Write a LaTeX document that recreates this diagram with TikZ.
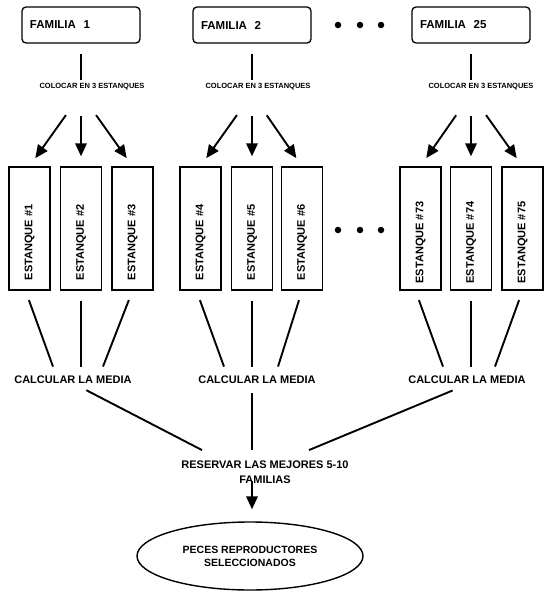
\documentclass[tikz,border=0pt]{standalone}
\usepackage{fontspec}
\setmainfont{Liberation Sans}
\usetikzlibrary{arrows.meta,shapes.geometric}

\tikzset{
  familybox/.style={draw,line width=1.3pt,rounded corners=4pt,
        minimum width=118pt,minimum height=36pt,text width=102pt,
        align=left,inner xsep=8pt,font=\bfseries\fontsize{11.5}{13}\selectfont},
  tank/.style={draw,line width=1.4pt,minimum width=41pt,minimum height=123pt},
  tanklabel/.style={rotate=90,font=\bfseries\fontsize{11}{13}\selectfont},
  steplabel/.style={font=\bfseries\fontsize{11}{15}\selectfont,align=center},
  smalllabel/.style={font=\bfseries\fontsize{7.5}{9}\selectfont},
  link/.style={line width=1.9pt},
  split/.style={line width=1.9pt,-{Triangle[length=13pt,width=11.5pt]}},
  bigdot/.style={circle,fill,inner sep=0pt,minimum size=6.5pt}
}

\begin{document}
\begin{tikzpicture}[x=1pt,y=-1pt]
      \useasboundingbox (0,0) rectangle (550,598);

      % families
      \node[familybox] (fam1)  at (81,25)  {FAMILIA\ \ 1};
      \node[familybox] (fam2)  at (252,25) {FAMILIA\ \ 2};
      \node[familybox] (fam25) at (471,25) {FAMILIA\ \ 25};

      \node[bigdot] (d1) at (338,25) {};
      \node[bigdot] (d2) at (360,25) {};
      \node[bigdot] (d3) at (381,25) {};

      \node[smalllabel] (col1)  at (92,87)  {COLOCAR EN 3 ESTANQUES};
      \node[smalllabel] (col2)  at (258,87) {COLOCAR EN 3 ESTANQUES};
      \node[smalllabel] (col25) at (481,87) {COLOCAR EN 3 ESTANQUES};

      \draw[link,shorten <=10pt] (fam1.south)  -- (fam1.south |- col1.north);
      \draw[link,shorten <=10pt] (fam2.south)  -- (fam2.south |- col2.north);
      \draw[link,shorten <=10pt] (fam25.south) -- (fam25.south |- col25.north);

      % tanks
      \node[tank] (t1)  at (29.5,228.5)  {};
      \node[tank] (t2)  at (81,228.5)    {};
      \node[tank] (t3)  at (132.5,228.5) {};
      \node[tank] (t4)  at (200.5,228.5) {};
      \node[tank] (t5)  at (252,228.5)   {};
      \node[tank] (t6)  at (302,228.5)   {};
      \node[tank] (t73) at (420.5,228.5) {};
      \node[tank] (t74) at (471,228.5)   {};
      \node[tank] (t75) at (522.5,228.5) {};

      \node[tanklabel] at ([yshift=-14pt]t1.center)  {ESTANQUE \#1};
      \node[tanklabel] at ([yshift=-14pt]t2.center)  {ESTANQUE \#2};
      \node[tanklabel] at ([yshift=-14pt]t3.center)  {ESTANQUE \#3};
      \node[tanklabel] at ([yshift=-14pt]t4.center)  {ESTANQUE \#4};
      \node[tanklabel] at ([yshift=-14pt]t5.center)  {ESTANQUE \#5};
      \node[tanklabel] at ([yshift=-14pt]t6.center)  {ESTANQUE \#6};
      \node[tanklabel] at ([yshift=-14pt]t73.center) {ESTANQUE \#73};
      \node[tanklabel] at ([yshift=-14pt]t74.center) {ESTANQUE \#74};
      \node[tanklabel] at ([yshift=-14pt]t75.center) {ESTANQUE \#75};

      \node[bigdot] (d4) at (338,230) {};
      \node[bigdot] (d5) at (360,230) {};
      \node[bigdot] (d6) at (381,230) {};

      \coordinate (s1)  at (fam1.south |- col1.south);
      \coordinate (s2)  at (fam2.south |- col2.south);
      \coordinate (s25) at (fam25.south |- col25.south);

      \draw[split,shorten <=26pt,shorten >=10pt] (s1) -- (t1.north);
      \draw[split,shorten <=22pt,shorten >=10pt] (s1) -- (t2.north);
      \draw[split,shorten <=26pt,shorten >=10pt] (s1) -- (t3.north);
      \draw[split,shorten <=26pt,shorten >=10pt] (s2) -- (t4.north);
      \draw[split,shorten <=22pt,shorten >=10pt] (s2) -- (t5.north);
      \draw[split,shorten <=26pt,shorten >=10pt] (s2) -- (t6.north);
      \draw[split,shorten <=26pt,shorten >=10pt] (s25) -- (t73.north);
      \draw[split,shorten <=22pt,shorten >=10pt] (s25) -- (t74.north);
      \draw[split,shorten <=26pt,shorten >=10pt] (s25) -- (t75.north);

      % means
      \node[steplabel] (calc1) at (73,380)  {CALCULAR\ LA\ MEDIA};
      \node[steplabel] (calc2) at (257,380) {CALCULAR\ LA\ MEDIA};
      \node[steplabel] (calc3) at (467,380) {CALCULAR\ LA\ MEDIA};

      \draw[link,shorten <=10pt] ([xshift=-4pt]t1.south) -- ([xshift=-28pt,yshift=6pt]t2.south |- calc1.north);
      \draw[link,shorten <=10pt] (t2.south) -- ([yshift=6pt]t2.south |- calc1.north);
      \draw[link,shorten <=10pt] (t3.south) -- ([xshift=22pt,yshift=6pt]t2.south |- calc1.north);
      \draw[link,shorten <=10pt] ([xshift=-4pt]t4.south) -- ([xshift=-28pt,yshift=6pt]t5.south |- calc2.north);
      \draw[link,shorten <=10pt] (t5.south) -- ([yshift=6pt]t5.south |- calc2.north);
      \draw[link,shorten <=10pt] (t6.south) -- ([xshift=26pt,yshift=6pt]t5.south |- calc2.north);
      \draw[link,shorten <=10pt] ([xshift=-5pt]t73.south) -- ([xshift=-28pt,yshift=6pt]t74.south |- calc3.north);
      \draw[link,shorten <=10pt] (t74.south) -- ([yshift=6pt]t74.south |- calc3.north);
      \draw[link,shorten <=10pt] (t75.south) -- ([xshift=24pt,yshift=6pt]t74.south |- calc3.north);

      % selection
      \node[steplabel] (res) at (265,472) {RESERVAR LAS MEJORES 5-10\\FAMILIAS};

      \draw[link,shorten <=6pt] (calc1.south -| t2.south) -- ([xshift=-63pt,yshift=7pt]res.north);
      \draw[link,shorten <=6pt] (calc2.south -| t5.south) -- ([yshift=7pt]res.north -| t5.south);
      \draw[link,shorten <=8pt] ([xshift=-7pt]calc3.south) -- ([xshift=44pt,yshift=7pt]res.north);

      \node[draw,ellipse,line width=1.4pt,minimum width=226pt,minimum height=68pt,
            steplabel,font=\bfseries\fontsize{10.5}{13}\selectfont] (peces) at (250,556)
            {PECES REPRODUCTORES\\SELECCIONADOS};

      \draw[split,shorten <=-6pt,shorten >=12pt] (res.south -| t5.south) -- (peces.north -| t5.south);
\end{tikzpicture}
\end{document}
